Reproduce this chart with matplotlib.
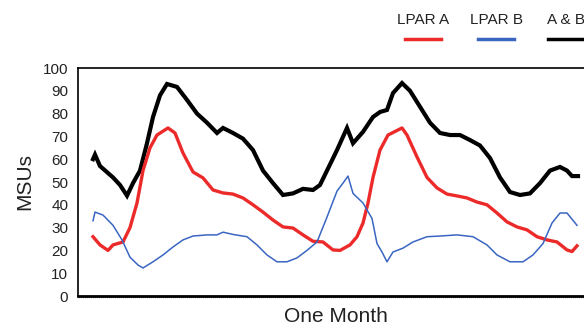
import matplotlib
matplotlib.use("Agg")
import matplotlib.pyplot as plt
from matplotlib.lines import Line2D

plt.rcParams['font.family'] = ['Liberation Sans', 'DejaVu Sans']

# time axis (arbitrary sample units across one month)
t_ab = [0, 2, 7, 20, 27, 34, 40, 47, 54, 60, 67, 74, 84, 94, 104, 114, 124, 130, 140, 150,
        160, 170, 180, 190, 200, 210, 220, 227, 234, 244, 254, 260, 270, 280, 287, 294, 300, 309, 317, 327,
        337, 347, 357, 367, 377, 387, 397, 407, 417, 427, 437, 447, 457, 467, 474, 479, 485]
msu_ab = [60, 62, 57, 52, 48.7, 44, 49.5, 55, 67, 78.5, 88, 93, 91.7, 86, 80, 76, 71.5, 73.7, 71.5, 69,
          64, 55, 49.5, 44.3, 45, 47, 46.5, 48.7, 55, 64, 73.7, 67, 72, 78.5, 80.7, 81.6, 89, 93.4, 90, 83,
          76, 71.5, 70.6, 70.6, 68.4, 66, 60.5, 52, 45.6, 44.3, 45, 49.5, 55, 56.6, 55, 52.6, 52.6]

t_a = [0, 7, 15, 20, 30, 37, 44, 50, 57, 64, 75, 82, 90, 100, 110, 120, 130, 140, 150, 160,
       170, 180, 190, 200, 210, 220, 230, 240, 247, 257, 264, 270, 275, 280, 287, 295, 309, 314, 324, 334,
       344, 354, 364, 374, 384, 394, 404, 414, 424, 434, 444, 454, 464, 474, 479, 484]
msu_a = [26, 22.4, 20, 22.4, 23.7, 30, 40.8, 55, 65, 70.6, 73.7, 71.5, 62.7, 54.4, 51.8, 46.5, 45.2, 44.7, 43, 40,
         36.8, 33.3, 30.3, 29.8, 26.8, 24, 23.7, 20.2, 20, 22.4, 26, 32, 40.8, 52, 64, 70.6, 73.7, 70.6, 61, 52,
         47.4, 44.7, 43.9, 43, 41.2, 40, 36.4, 32.5, 30.3, 29, 26, 24.6, 23.7, 20.2, 19.5, 22]

t_b = [0, 2, 10, 20, 29, 37, 45, 50, 60, 70, 80, 90, 100, 114, 124, 130, 140, 154, 164, 174,
       184, 194, 204, 214, 224, 234, 244, 250, 255, 260, 270, 279, 284, 289, 294, 300, 310, 320, 334, 347,
       364, 380, 394, 404, 417, 430, 440, 450, 459, 467, 474, 484]
msu_b = [33, 36.8, 35.5, 31, 24.6, 17, 13.6, 12.3, 15, 18, 21.5, 24.6, 26.3, 26.8, 26.8, 28, 27, 26, 22.4, 18,
         15, 15, 16.7, 20, 23.7, 34.6, 46, 49.5, 52.6, 45, 40.8, 34, 23, 19.3, 15, 19.3, 21, 23.7, 26, 26.3,
         26.8, 26, 22.4, 18, 15, 15, 18, 23, 32, 36.4, 36.4, 31]

names = ['LPAR A', 'LPAR B', 'A & B']
colors = ['#ec2a2a', '#3a66c2', '#000000']

fig = plt.figure(figsize=(5.84, 3.25), dpi=100)
ax = fig.add_axes([78 / 584, 29 / 325, 516 / 584, 228 / 325])

ax.plot(t_ab, msu_ab, color=colors[2], lw=3.0, solid_joinstyle='miter')
ax.plot(t_a, msu_a, color=colors[0], lw=2.4)
ax.plot(t_b, msu_b, color=colors[1], lw=1.1)

ax.set_xlim(-15, 501)
ax.set_ylim(0, 100)
ax.set_yticks(range(0, 101, 10))
ax.tick_params(axis='y', length=0, pad=7, labelsize=11, colors='#222222')
ax.set_xticks([])
ax.set_xticks(range(-14, 501, 2), minor=True)
ax.tick_params(axis='x', which='minor', length=1.5, width=0.5, color='#aaaaaa')
ax.spines['right'].set_visible(False)
ax.spines['bottom'].set_linewidth(2)
for s in ['left', 'top']:
    ax.spines[s].set_linewidth(1.2)

ax.set_ylabel('MSUs', fontsize=15, color='#222222', labelpad=6)
ax.set_xlabel('One Month', fontsize=15, color='#222222', labelpad=3)

# legend: label above a short line sample
leg_x = [423, 496, 566]
for name, c, x in zip(names, colors, leg_x):
    fig.text(x / 584, 1 - 20 / 325, name, ha='center', va='center', fontsize=11, color='#222222')
    fig.add_artist(Line2D([(x - 18) / 584, (x + 18) / 584], [1 - 39 / 325] * 2,
                          color=c, lw=2.5, transform=fig.transFigure))

fig.savefig('out.png', dpi=100)
